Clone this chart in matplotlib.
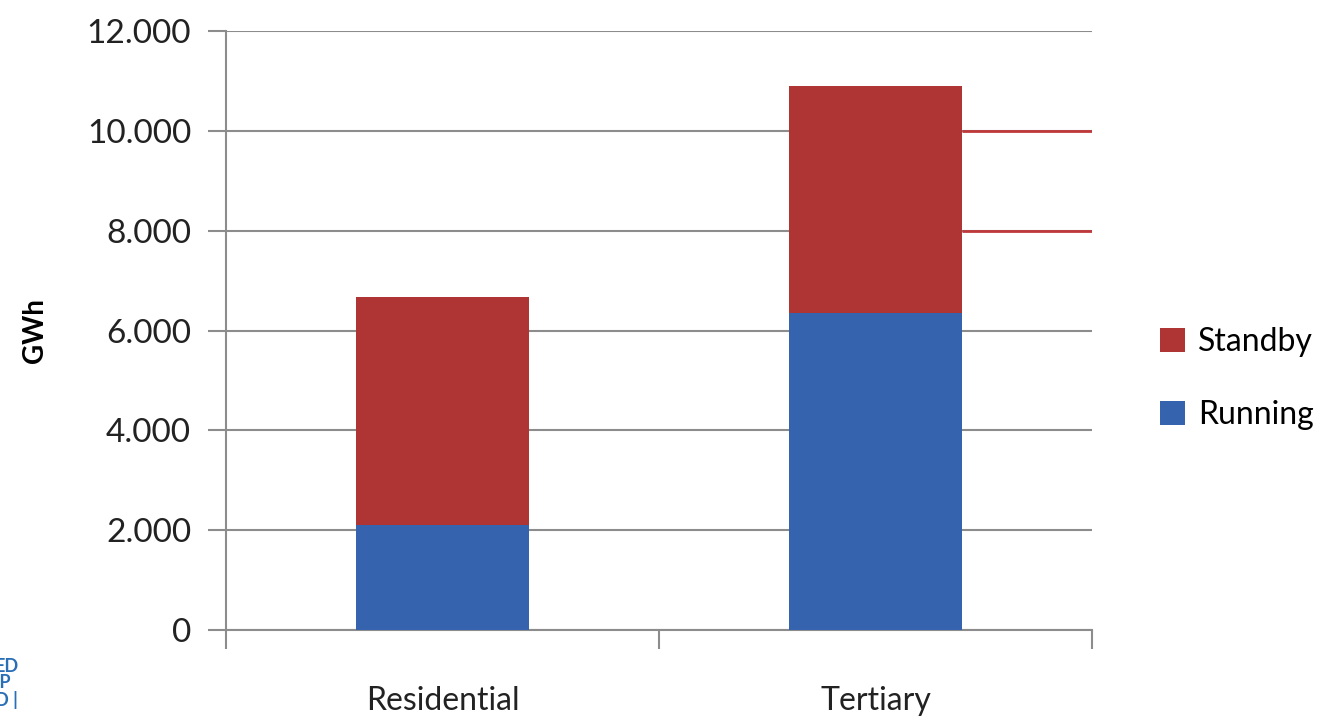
import matplotlib.pyplot as plt
from matplotlib.ticker import FuncFormatter

categorias = ["Residential", "Tertiary"]
running = [2100, 6350]
standby = [4570, 4550]
y_ticks = [0, 2000, 4000, 6000, 8000, 10000, 12000]

azul = "#3563ad"
vermelho = "#ae3533"
cinza = "#8c8c8c"

plt.rcParams["font.family"] = ["Lato", "DejaVu Sans"]

fig = plt.figure(figsize=(13.21, 7.17), dpi=100)
ax = fig.add_axes([0.171, 0.121, 0.656, 0.836])

x = list(range(len(categorias)))
largura = 0.4
ax.bar(x, running, largura, color=azul, label="Running", zorder=3)
ax.bar(x, standby, largura, bottom=running, color=vermelho, label="Standby", zorder=3)

ax.set_xlim(-0.5, len(categorias) - 0.5)
ax.set_ylim(0, 12000)
ax.set_yticks(y_ticks)
ax.yaxis.set_major_formatter(FuncFormatter(lambda v, p: f"{int(v):,}".replace(",", ".")))
ax.set_axisbelow(True)
ax.grid(axis="y", color=cinza, linewidth=1.5)

# as linhas de grade a direita da barra Tertiary aparecem vermelhas no original
fim_barra = x[-1] + largura / 2
ax.hlines([8000, 10000], fim_barra, len(categorias) - 0.5, color="#c0393a", linewidth=2, zorder=2)

ax.set_xticks(x)
ax.set_xticklabels(categorias, fontsize=23, color="#222222")
ax.set_xticks([-0.5, 0.5, 1.5], minor=True)
ax.tick_params(axis="x", which="major", length=0, pad=40)
ax.tick_params(axis="x", which="minor", length=14, width=1.5, color=cinza)
ax.tick_params(axis="y", length=13, width=1.5, color=cinza, labelsize=24, pad=12, labelcolor="#222222")

for lado in ["top", "right"]:
    ax.spines[lado].set_visible(False)
ax.spines["left"].set_color(cinza)
ax.spines["bottom"].set_color(cinza)
ax.spines["left"].set_linewidth(1.5)
ax.spines["bottom"].set_linewidth(1.5)

ax.set_ylabel("GWh", fontsize=20, fontweight="bold", labelpad=28)

handles, labels = ax.get_legend_handles_labels()
fig.legend(handles[::-1], labels[::-1], loc="center left", bbox_to_anchor=(0.856, 0.472),
           frameon=False, fontsize=23, handlelength=0.8, handleheight=0.8,
           handletextpad=0.4, labelspacing=1.35)

# pedaco do logotipo cortado no canto inferior esquerdo
fig.text(-0.004, 0.047, "ED\nIP\nD |", fontsize=13, fontweight="bold", color="#2a6fb5",
         va="center", ha="left", linespacing=0.95)

fig.savefig("out.png", dpi=100)
